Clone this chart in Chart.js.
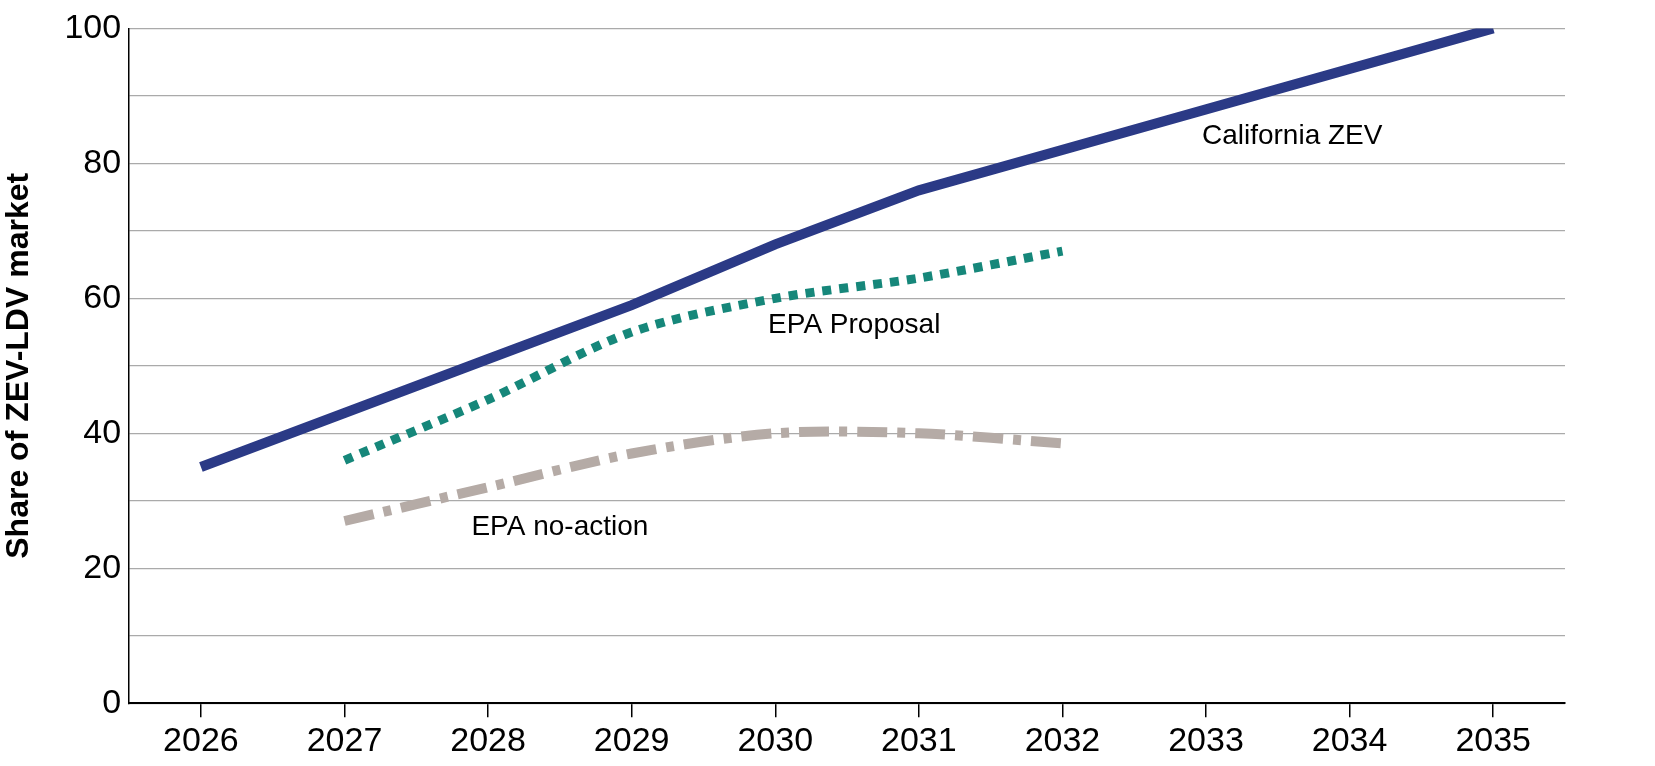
<!DOCTYPE html><html><head><style>html,body{margin:0;background:#fff}#w{width:1655px;height:766px}</style>
<script src="https://cdn.jsdelivr.net/npm/chart.js@4/dist/chart.umd.min.js"></script></head><body><div id="w"><canvas id="c"></canvas></div>
<script>
const years=['2026','2027','2028','2029','2030','2031','2032','2033','2034','2035'];
const californiaZEV=[35,43,51,59,68,76,82,88,94,100];
const epaProposal=[null,36,45,55,60,63,67,null,null,null];
const epaNoAction=[null,27,32,37,40,40,38.5,null,null,null];
const labels=[{t:'California ZEV',x:7.6,y:84},{t:'EPA Proposal',x:4.55,y:56},{t:'EPA no-action',x:2.5,y:26}];
const lab={id:'lab',afterDatasetsDraw(ch){const c=ch.ctx,xs=ch.scales.x,ys=ch.scales.y;c.save();c.font='28px "Liberation Sans", Arial';c.fillStyle='#000';c.textAlign='center';c.textBaseline='middle';
labels.forEach(l=>{const i=Math.floor(l.x),f=l.x-i;const px=xs.getPixelForValue(i)+f*(xs.getPixelForValue(1)-xs.getPixelForValue(0));c.fillText(l.t,px,ys.getPixelForValue(l.y));});c.restore();}};
new Chart(document.getElementById('c'),{type:'line',data:{labels:years,datasets:[
{data:californiaZEV,borderColor:'#2b3a86',borderWidth:10,pointRadius:0,tension:0},
{data:epaProposal,borderColor:'#16877a',borderWidth:9,borderDash:[9,8],pointRadius:0,tension:0.3},
{data:epaNoAction,borderColor:'#b5aba6',borderWidth:10,borderDash:[30,10,8,10],pointRadius:0,tension:0.3}]},
options:{responsive:true,maintainAspectRatio:false,animation:false,layout:{padding:{top:6,right:90,bottom:0,left:0}},
plugins:{legend:{display:false},tooltip:{enabled:false}},
scales:{x:{offset:true,grid:{offset:false,drawOnChartArea:false,drawTicks:true,tickLength:14,color:'#000',lineWidth:1.5},border:{color:'#000',width:2},
ticks:{color:'#000',font:{size:34,family:'"Liberation Sans", Arial'},padding:4}},
y:{min:0,max:100,ticks:{stepSize:10,color:'#000',font:{size:34,family:'"Liberation Sans", Arial'},padding:8,callback:v=>v%20===0?v:''},
grid:{color:'#aaa',lineWidth:1.2,tickLength:0},border:{color:'#000',width:1.5},
title:{display:true,text:'Share of ZEV-LDV market',color:'#000',padding:{top:0,bottom:18},font:{size:32,weight:'bold',family:'"Liberation Sans", Arial'}}}}},plugins:[lab]});
</script></body></html>
